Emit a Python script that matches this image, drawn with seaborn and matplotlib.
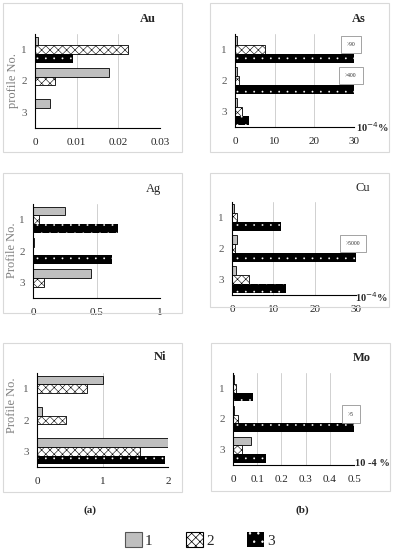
import numpy as np
import pandas as pd
import matplotlib
matplotlib.use("Agg")
import matplotlib.pyplot as plt
from matplotlib.patches import Rectangle, Patch
import seaborn as sns

profiles = ["1", "2", "3"]
series = ["1", "2", "3"]

# values per series (rows = profile 1..3); capped bars drawn at axis max
au_1 = [0.0007, 0.0177, 0.0037]
au_2 = [0.0224, 0.0049, 0.0]
au_3 = [0.0091, 0.0002, 0.0003]

as_1 = [0.6, 0.4, 0.5]
as_2 = [7.5, 0.9, 1.8]
as_3 = [30, 30, 3.6]

ag_1 = [0.25, 0.005, 0.46]
ag_2 = [0.047, 0.0, 0.09]
ag_3 = [0.67, 0.62, 0.0]

cu_1 = [0.5, 1.3, 1.0]
cu_2 = [1.3, 0.7, 4.1]
cu_3 = [11.9, 30, 13.1]

ni_1 = [1.0, 0.07, 2.0]
ni_2 = [0.76, 0.45, 1.57]
ni_3 = [0.005, 0.01, 1.95]

mo_1 = [0.003, 0.003, 0.073]
mo_2 = [0.014, 0.02, 0.036]
mo_3 = [0.084, 0.5, 0.135]

as_notes = {0: ">90", 1: ">400"}
cu_notes = {1: ">5000"}
mo_notes = {1: ">5"}

au_ticks = [0, 0.01, 0.02, 0.03]
as_ticks = [0, 10, 20, 30]
ag_ticks = [0, 0.5, 1]
ni_ticks = [0, 1, 2]
mo_ticks = [0, 0.1, 0.2, 0.3, 0.4, 0.5]

sns.set_style("white")
plt.rcParams["font.family"] = ["Liberation Serif", "DejaVu Serif"]
plt.rcParams["hatch.linewidth"] = 0.5

W, H = 395, 550
fig = plt.figure(figsize=(W / 100, H / 100), dpi=100)


def px(x0, y0, x1, y1):
    return [x0 / W, 1 - y1 / H, (x1 - x0) / W, (y1 - y0) / H]


def frame(x0, y0, x1, y1):
    fig.patches.append(Rectangle((x0 / W, 1 - y1 / H), (x1 - x0) / W, (y1 - y0) / H,
                                 transform=fig.transFigure, fill=False,
                                 edgecolor="#d9d9d9", lw=0.8))


def thin_hatch(p, lw):
    if hasattr(p, "set_hatch_linewidth"):
        p.set_hatch_linewidth(lw)
    else:
        p._hatch_linewidth = lw


STYLES = [dict(facecolor="#bfbfbf", edgecolor="black", hatch=None, lw=0.6, hlw=0.5),
          dict(facecolor="white", edgecolor="black", hatch="xxxx", lw=0.6, hlw=0.4),
          dict(facecolor="black", edgecolor="white", hatch="..", lw=0.0, hlw=0.1)]


def panel(rect, box, s1, s2, s3, ticks, title, tpos, bold, ylabel=None, unit=None,
          upos=None, notes=None, ylpos=None):
    frame(*box)
    ax = fig.add_axes(px(*rect))
    df = pd.DataFrame({
        "profile": profiles * 3,
        "series": [s for s in series for _ in profiles],
        "value": list(s1) + list(s2) + list(s3),
    })
    sns.barplot(data=df, x="value", y="profile", hue="series", order=profiles,
                hue_order=series, orient="h", width=0.84, errorbar=None,
                legend=False, ax=ax)
    for cont, st in zip(ax.containers, STYLES):
        for p in cont:
            p.set_facecolor(st["facecolor"])
            p.set_edgecolor(st["edgecolor"])
            p.set_hatch(st["hatch"])
            p.set_linewidth(st["lw"])
            thin_hatch(p, st["hlw"])
            p.set_zorder(3)
    ax.set_xlim(ticks[0], ticks[-1])
    ax.set_ylim(2.5, -0.5)
    ax.set_xticks(ticks)
    ax.set_xticklabels([f"{t:g}" for t in ticks], fontsize=8)
    ax.set_yticks([0, 1, 2])
    ax.set_yticklabels(profiles, fontsize=8, color="#595959")
    ax.set_yticks([-0.5, 0.5, 1.5, 2.5], minor=True)
    ax.tick_params(axis="y", which="major", length=0, pad=6)
    ax.tick_params(axis="y", which="minor", length=3, width=0.7, direction="out")
    ax.tick_params(axis="x", length=3, width=0.7, direction="out", pad=4)
    for t in ticks[1:]:
        ax.axvline(t, color="#d0d0d0", lw=0.7, zorder=0)
    for s in ["top", "right"]:
        ax.spines[s].set_visible(False)
    for s in ["left", "bottom"]:
        ax.spines[s].set_color("black")
        ax.spines[s].set_linewidth(0.8)
        ax.spines[s].set_zorder(4)
    ax.set_xlabel("")
    ax.set_ylabel("")
    fig.text(tpos[0] / W, 1 - tpos[1] / H, title, fontsize=9,
             fontweight="bold" if bold else "normal", ha="center", va="center")
    if ylabel:
        fig.text(ylpos[0] / W, 1 - ylpos[1] / H, ylabel, fontsize=9, color="#7f7f7f",
                 rotation=90, ha="center", va="center")
    if unit:
        fig.text(upos[0] / W, 1 - upos[1] / H, unit, fontsize=7.5, fontweight="bold",
                 ha="center", va="center")
    if notes:
        bars3 = ax.containers[2]
        for i, lab in notes.items():
            p = bars3[i]
            yc = p.get_y() + p.get_height() / 2
            ax.annotate(lab, xy=(ticks[-1], yc), xytext=(-3, 11), textcoords="offset pixels",
                        fontsize=4, ha="center", va="bottom", annotation_clip=False, zorder=6,
                        bbox=dict(boxstyle="square,pad=1.1", fc="white", ec="#7f7f7f", lw=0.5))
    return ax


panel((35, 34, 160, 128), (3, 3, 182, 152), au_1, au_2, au_3, au_ticks, "Au", (148, 19), True,
      ylabel="profile No.", ylpos=(13, 80))
panel((235, 34, 354, 127), (210, 3, 389, 152), as_1, as_2, as_3, as_ticks, "As", (359, 19), True,
      unit="10$^{-4}$%", upos=(372, 127), notes=as_notes)
panel((33, 204, 160, 298), (3, 173, 182, 313), ag_1, ag_2, ag_3, ag_ticks, "Ag", (153, 189), False,
      ylabel="Profile No.", ylpos=(12, 250))
panel((232, 202, 356, 295), (210, 173, 389, 307), cu_1, cu_2, cu_3, as_ticks, "Cu", (363, 188), False,
      unit="10$^{-4}$%", upos=(371, 297), notes=cu_notes)
panel((37, 373, 168, 467), (3, 343, 182, 492), ni_1, ni_2, ni_3, ni_ticks, "Ni", (160, 357), True,
      ylabel="Profile No.", ylpos=(12, 405))
panel((233, 373, 354, 465), (211, 343, 390, 491), mo_1, mo_2, mo_3, mo_ticks, "Mo", (362, 358), True,
      unit="10 -4 %", upos=(372, 463), notes=mo_notes)

fig.text(90 / W, 1 - 510 / H, "(a)", fontsize=8, fontweight="bold", ha="center", va="center")
fig.text(302 / W, 1 - 510 / H, "(b)", fontsize=8, fontweight="bold", ha="center", va="center")

handles = [Patch(facecolor="#bfbfbf", edgecolor="#555555", lw=0.8),
           Patch(facecolor="white", edgecolor="black", hatch="xxxx", lw=0.8),
           Patch(facecolor="black", edgecolor="white", hatch="..", lw=0.0)]
thin_hatch(handles[1], 0.4)
thin_hatch(handles[2], 0.1)
fig.legend(handles, series, loc="center", bbox_to_anchor=(200 / W, 1 - 540 / H), ncol=3,
           frameon=False, fontsize=11, handlelength=1.1, handleheight=1.1,
           handletextpad=0.2, columnspacing=2.2)

fig.savefig("out.png", dpi=100)
